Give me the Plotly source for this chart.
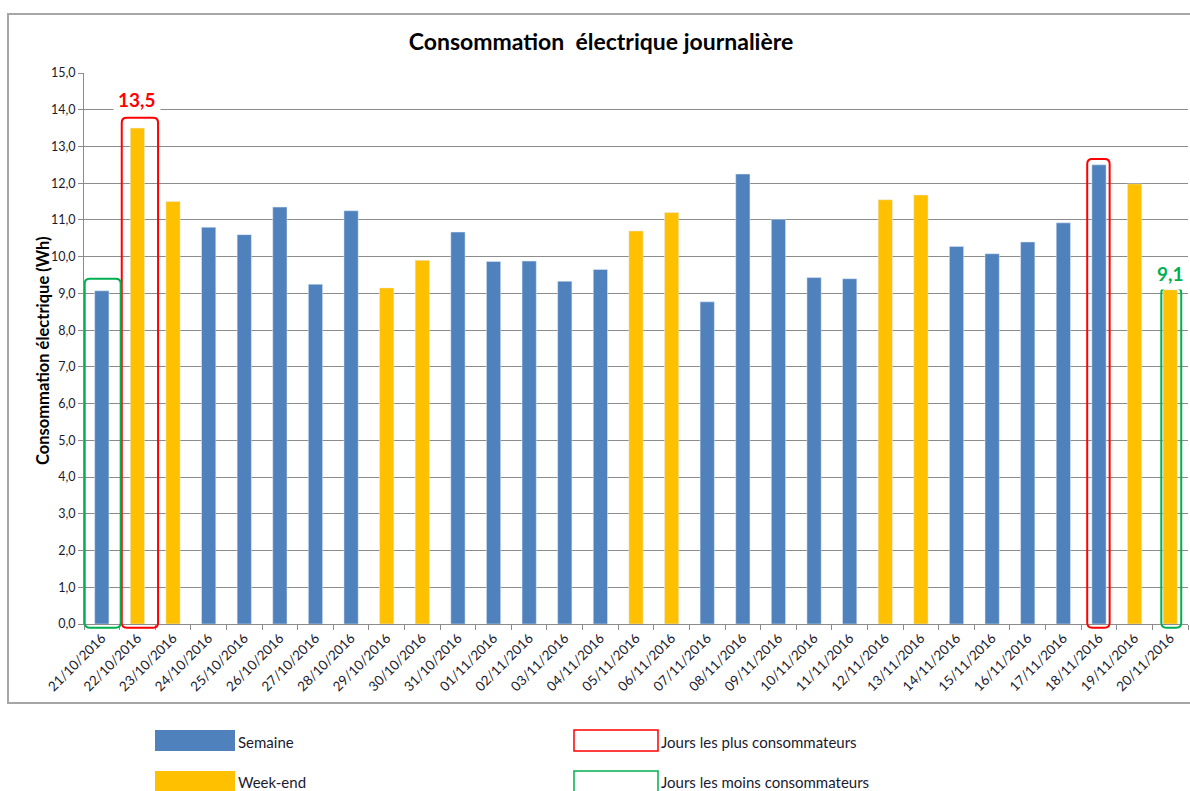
import plotly.graph_objects as go

# Daily electricity consumption (Wh)
dates = [
    "21/10/2016", "22/10/2016", "23/10/2016", "24/10/2016", "25/10/2016",
    "26/10/2016", "27/10/2016", "28/10/2016", "29/10/2016", "30/10/2016",
    "31/10/2016", "01/11/2016", "02/11/2016", "03/11/2016", "04/11/2016",
    "05/11/2016", "06/11/2016", "07/11/2016", "08/11/2016", "09/11/2016",
    "10/11/2016", "11/11/2016", "12/11/2016", "13/11/2016", "14/11/2016",
    "15/11/2016", "16/11/2016", "17/11/2016", "18/11/2016", "19/11/2016",
    "20/11/2016",
]
consumption = [
    9.07, 13.5, 11.5, 10.8, 10.6, 11.35, 9.25, 11.25, 9.15, 9.9,
    10.67, 9.87, 9.88, 9.33, 9.65, 10.7, 11.2, 8.77, 12.25, 11.02,
    9.43, 9.4, 11.55, 11.68, 10.28, 10.08, 10.4, 10.92, 12.5, 11.98,
    9.1,
]
weekend = [
    0, 1, 1, 0, 0, 0, 0, 0, 1, 1,
    0, 0, 0, 0, 0, 1, 1, 0, 0, 0,
    0, 0, 1, 1, 0, 0, 0, 0, 0, 1,
    1,
]
# highlighted days: (index, box left offset, box right offset, top pad)
highlights_max = [(1, -0.44, 0.58, 0.28), (28, -0.33, 0.30, 0.16)]
highlights_min = [(0, -0.48, 0.53, 0.33), (30, -0.25, 0.31, 0.05)]
labelled_max = 1
labelled_min = 30

BLUE = "#4f81bd"
YELLOW = "#ffc000"
RED = "#ff0000"
GREEN = "#00b050"
TEXT = "#1a1a2e"
FONT = "Lato"

W, H = 1190, 791
L, R, T, B = 84, 2, 73, 167
PW, PH = W - L - R, H - T - B
YMAX = 15.0


def px_x(p):
    return (p - L) / PW


def px_y(p):
    return (H - B - p) / PH


idx = list(range(len(dates)))
sem_vals = [v if not w else None for v, w in zip(consumption, weekend)]
we_vals = [v if w else None for v, w in zip(consumption, weekend)]

fig = go.Figure()
fig.add_bar(x=idx, y=sem_vals, name="Semaine", marker_color=BLUE, width=0.4)
fig.add_bar(x=idx, y=we_vals, name="Week-end", marker_color=YELLOW, width=0.4)


def rounded_path(x0, x1, y0, y1, rx=0.14, ry=0.009):
    return (
        f"M {x0+rx},{y0} L {x1-rx},{y0} Q {x1},{y0} {x1},{y0+ry} "
        f"L {x1},{y1-ry} Q {x1},{y1} {x1-rx},{y1} L {x0+rx},{y1} "
        f"Q {x0},{y1} {x0},{y1-ry} L {x0},{y0+ry} Q {x0},{y0} {x0+rx},{y0} Z"
    )


shapes = []
for group, color in ((highlights_max, RED), (highlights_min, GREEN)):
    for i, dl, dr, pad in group:
        top = (consumption[i] + pad) / YMAX
        shapes.append(dict(
            type="path", xref="x", yref="paper",
            path=rounded_path(i + dl, i + dr, -0.1 / YMAX, top),
            line=dict(color=color, width=2), fillcolor="rgba(0,0,0,0)",
        ))

# outer chart frame (right edge runs past the page)
shapes.append(dict(
    type="rect", xref="paper", yref="paper",
    x0=px_x(8), x1=px_x(1240), y0=px_y(703), y1=px_y(14),
    line=dict(color="#a6a6a6", width=2), layer="below",
))

# custom legend
legend_items = [
    (155, 235, 730, 751, dict(fillcolor=BLUE, line=dict(width=0)), "Semaine"),
    (155, 235, 771, 792, dict(fillcolor=YELLOW, line=dict(width=0)), "Week-end"),
    (574, 658, 730, 751, dict(fillcolor="white", line=dict(color=RED, width=1.5)),
     "Jours les plus consommateurs"),
    (574, 658, 771, 792, dict(fillcolor="white", line=dict(color=GREEN, width=1.5)),
     "Jours les moins consommateurs"),
]
annotations = []
for x0, x1, y0, y1, style, label in legend_items:
    shapes.append(dict(type="rect", xref="paper", yref="paper",
                       x0=px_x(x0), x1=px_x(x1), y0=px_y(y1), y1=px_y(y0), **style))
    annotations.append(dict(
        xref="paper", yref="paper", x=px_x(x1 + 1), y=px_y((y0 + y1) / 2 + 1),
        text=label, showarrow=False, xanchor="left", yanchor="middle",
        font=dict(family=FONT, size=15, color=TEXT),
    ))


def fr(v):
    return f"{v:.1f}".replace(".", ",")


annotations.append(dict(
    x=labelled_max, y=consumption[labelled_max] + 0.77, xref="x", yref="y",
    text=f"<b>{fr(consumption[labelled_max])}</b>", showarrow=False,
    font=dict(family=FONT, size=19, color=RED), bgcolor="white", borderpad=4,
))
annotations.append(dict(
    x=labelled_min, y=consumption[labelled_min] + 0.45, xref="x", yref="y",
    text=f"<b>{fr(consumption[labelled_min])}</b>", showarrow=False,
    font=dict(family=FONT, size=19, color=GREEN), bgcolor="white", borderpad=4,
))
annotations.append(dict(
    xref="paper", yref="paper", x=px_x(31), y=px_y(351),
    text="<b>Consommation électrique (Wh)</b>", showarrow=False, textangle=-90,
    font=dict(family=FONT, size=16.5, color="black"),
))

fig.update_layout(
    width=W, height=H,
    margin=dict(l=L, r=R, t=T, b=B),
    paper_bgcolor="white", plot_bgcolor="white",
    barmode="overlay", showlegend=False,
    separators=", ",
    title=dict(
        text="<b>Consommation  électrique journalière</b>",
        x=601 / W, xanchor="center", y=1 - 42 / H, yanchor="middle",
        xref="container", yref="container",
        font=dict(family=FONT, size=23, color="black"),
    ),
    xaxis=dict(
        range=[-0.5, len(dates) - 0.5],
        tickmode="array", tickvals=idx, ticktext=dates, tickangle=-45,
        ticks="", showgrid=False, zeroline=False,
        showline=True, linecolor="#8c8c8c", linewidth=1,
        tickfont=dict(family=FONT, size=13.5, color=TEXT),
        minor=dict(tickmode="array", tickvals=[i - 0.5 for i in range(len(dates) + 1)],
                   ticks="outside", ticklen=5, tickcolor="#8c8c8c", showgrid=False),
    ),
    yaxis=dict(
        range=[0, YMAX], dtick=1, tickformat=".1f",
        ticks="outside", ticklen=5, tickcolor="#8c8c8c",
        showgrid=True, gridcolor="#8c8c8c", gridwidth=1,
        zeroline=False, showline=True, linecolor="#8c8c8c", linewidth=1,
        tickfont=dict(family=FONT, size=12.5, color=TEXT),
    ),
    shapes=shapes,
    annotations=annotations,
)

fig.write_html("out.html")
